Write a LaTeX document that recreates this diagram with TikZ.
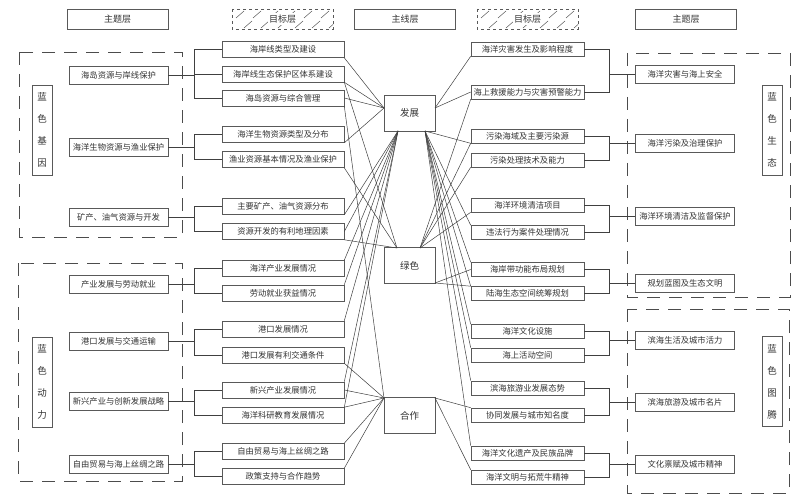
\documentclass[tikz,border=0pt]{standalone}
\usepackage{fontspec}
\newfontfamily\cjk{Noto Sans CJK SC}
\begin{document}
\begin{tikzpicture}[x=1pt,y=-1pt,
  every node/.style={font=\cjk\fontsize{8.3}{10}\selectfont, text=black!80, inner sep=0pt},
  bx/.style={draw=black!65, line width=0.6pt},
  hdr/.style={bx, minimum width=101pt, minimum height=20pt, font=\cjk\fontsize{9}{10}\selectfont},
  ltgt/.style={bx, minimum width=122pt, minimum height=16pt},
  rtgt/.style={bx, minimum width=113pt, minimum height=14pt},
  thm/.style={bx, minimum width=99pt, minimum height=18pt},
  mainbox/.style={bx, minimum width=51pt, minimum height=36pt, font=\cjk\fontsize{9.5}{10}\selectfont},
  vlab/.style={bx, minimum width=20pt, minimum height=90pt, align=center, font=\cjk\fontsize{9.5}{22}\selectfont},
  grp/.style={draw=black!70, line width=0.7pt, dash pattern=on 13pt off 9pt},
  ln/.style={draw=black!75, line width=0.5pt},
  hatch/.style={draw=black!65, line width=0.5pt}
]
\useasboundingbox (0,0) rectangle (801,500);
\fill[white] (0,0) rectangle (801,500);

% headers
\node[hdr] (hL) at (117.5,19) {主题层};
\node[hdr] (hM) at (405,19) {主线层};
\node[hdr] (hR) at (686,19) {主题层};
\foreach \x in {232,477}{
  \begin{scope}
    \clip (\x,9) rectangle (\x+101,29);
    \foreach \i in {0,...,5}{
      \draw[hatch] (\x+4+17*\i,18) -- ++(8,-7);
      \draw[hatch] (\x+12+17*\i,28) -- ++(8,-7);
    }
  \end{scope}
  \draw[hatch, dashed] (\x,9) rectangle (\x+101,29);
}
\node[fill=white, inner sep=1.5pt, font=\cjk\fontsize{9}{10}\selectfont] (hT1) at (282.5,19) {目标层};
\node[fill=white, inner sep=1.5pt, font=\cjk\fontsize{9}{10}\selectfont] (hT2) at (527.5,19) {目标层};

% dashed groups
\draw[grp] (19,52) rectangle (182,237);
\draw[grp] (18,263) rectangle (182,481);
\draw[grp] (627,53) rectangle (790,297);
\draw[grp] (627,309) rectangle (789,493);

% vertical labels
\node[vlab] (vL1) at (42,130) {蓝\\色\\基\\因};
\node[vlab] (vL2) at (42,382) {蓝\\色\\动\\力};
\node[vlab] (vR1) at (772,130) {蓝\\色\\生\\态};
\node[vlab] (vR2) at (772,381.5) {蓝\\色\\图\\腾};

% main boxes
\node[mainbox] (fz) at (409.5,113) {发展};
\node[mainbox] (ls) at (409.5,265.5) {绿色};
\node[mainbox] (hz) at (409.5,415.5) {合作};

% left targets
\foreach \n/\y/\t in {1/49.5/海岸线类型及建设, 2/74/海岸线生态保护区体系建设, 3/98/海岛资源与综合管理,
  4/134.5/海洋生物资源类型及分布, 5/159.5/渔业资源基本情况及渔业保护, 6/206.5/主要矿产、油气资源分布,
  7/231.5/资源开发的有利地理因素, 8/268.5/海洋产业发展情况, 9/293/劳动就业获益情况,
  10/329/港口发展情况, 11/355/港口发展有利交通条件, 12/390/新兴产业发展情况,
  13/415.5/海洋科研教育发展情况, 14/451.5/自由贸易与海上丝绸之路, 15/476.5/政策支持与合作趋势}
  {\node[ltgt] (lt\n) at (283,\y) {\t};}

% right targets
\foreach \n/\y/\t in {1/49/海洋灾害发生及影响程度, 2/92/海上救援能力与灾害预警能力, 3/136/污染海域及主要污染源,
  4/160/污染处理技术及能力, 5/205/海洋环境清洁项目, 6/232.5/违法行为案件处理情况,
  7/269.5/海岸带功能布局规划, 8/293.5/陆海生态空间统筹规划, 9/331.5/海洋文化设施,
  10/355/海上活动空间, 11/388/滨海旅游业发展态势, 12/415/协同发展与城市知名度,
  13/453/海洋文化遗产及民族品牌, 14/477/海洋文明与拓荒牛精神}
  {\node[rtgt] (rt\n) at (527.5,\y) {\t};}

% left themes
\foreach \n/\y/\t in {1/75/海岛资源与岸线保护, 2/147/海洋生物资源与渔业保护, 3/217/矿产、油气资源与开发,
  4/284.5/产业发展与劳动就业, 5/341/港口发展与交通运输, 6/401.5/新兴产业与创新发展战略,
  7/464.5/自由贸易与海上丝绸之路}
  {\node[thm] (lth\n) at (118.5,\y) {\t};}

% right themes
\foreach \n/\y/\t in {1/74.5/海洋灾害与海上安全, 2/143/海洋污染及治理保护, 3/216.5/海洋环境清洁及监督保护,
  4/283/规划蓝图及生态文明, 5/340/滨海生活及城市活力, 6/402/滨海旅游及城市名片,
  7/464/文化禀赋及城市精神}
  {\node[thm] (rth\n) at (685,\y) {\t};}

% left brackets
\foreach \th/\a/\b in {1/1/3, 2/4/5, 3/6/7, 4/8/9, 5/10/11, 6/12/13, 7/14/15}{
  \draw[ln] (lth\th.east) -- (lth\th.east -| 195,0);
  \draw[ln] (lt\a.west) -- ++(-27,0) |- (lt\b.west);
}
\draw[ln] (lt2.west) -- ++(-27,0);
% right brackets
\foreach \th/\a/\b in {1/1/2, 2/3/4, 3/5/6, 4/7/8, 5/9/10, 6/11/12, 7/13/14}{
  \draw[ln] (rth\th.west) -- (rth\th.west -| 609,0);
  \draw[ln] (rt\a.east) -- ++(25,0) |- (rt\b.east);
}

% attachment points
\coordinate (fzL) at (384,108);
\coordinate (fzR) at (435,108);
\coordinate (fzBL) at (398,131);
\coordinate (fzBR) at (425,131);
\coordinate (lsTL) at (397,248);
\coordinate (lsTR) at (420,248);
\coordinate (lsBR) at (435,283);
\coordinate (hzTL) at (384,398);
\coordinate (hzTR) at (435,398);

% web (left)
\draw[ln] (lt1.south east) -- (fzL);
\draw[ln] (lt2.south east) -- (fzL);
\draw[ln] (lt2.south east) -- (lsTL);
\draw[ln] (lt3.east) -- (fzL);
\draw[ln] (lt3.south east) -- (hzTL);
\draw[ln] (lt4.south east) -- (fzL);
\draw[ln] (lt5.south east) -- (lsTL);
\draw[ln] (lt6.south east) -- (fzBL);
\draw[ln] (lt7.east) -- (fzBL);
\draw[ln] (lt7.south east) -- (lsTL);
\draw[ln] (lt8.north east) -- (fzBL);
\draw[ln] (lt9.north east) -- (fzBL);
\draw[ln] (lt10.north east) -- (fzBL);
\draw[ln] (lt11.south east) -- (hzTL);
\draw[ln] (lt12.north east) -- (fzBL);
\draw[ln] (lt12.east) -- (hzTL);
\draw[ln] (lt13.north east) -- (fzBL);
\draw[ln] (lt13.north east) -- (hzTL);
\draw[ln] (lt14.north east) -- (hzTL);
\draw[ln] (lt15.north east) -- (hzTL);
% web (right)
\draw[ln] (rt1.south west) -- (fzR);
\draw[ln] (rt2.west) -- (fzR);
\draw[ln] (rt2.south west) -- (lsTR);
\draw[ln] (rt3.south west) -- (fzBR);
\draw[ln] (rt3.south west) -- (lsTR);
\draw[ln] (rt4.south west) -- (lsTR);
\draw[ln] (rt5.south west) -- (lsTR);
\draw[ln] (rt6.north west) -- (fzBR);
\draw[ln] (rt7.west) -- (lsBR);
\draw[ln] (rt7.north west) -- (fzBR);
\draw[ln] (rt8.north west) -- (lsBR);
\draw[ln] (rt8.north west) -- (fzBR);
\draw[ln] (rt9.north west) -- (fzBR);
\draw[ln] (rt10.north west) -- (fzBR);
\draw[ln] (rt11.north west) -- (fzBR);
\draw[ln] (rt12.north west) -- (hzTR);
\draw[ln] (rt13.north west) -- (fzBR);
\draw[ln] (rt14.north west) -- (hzTR);
\end{tikzpicture}
\end{document}
